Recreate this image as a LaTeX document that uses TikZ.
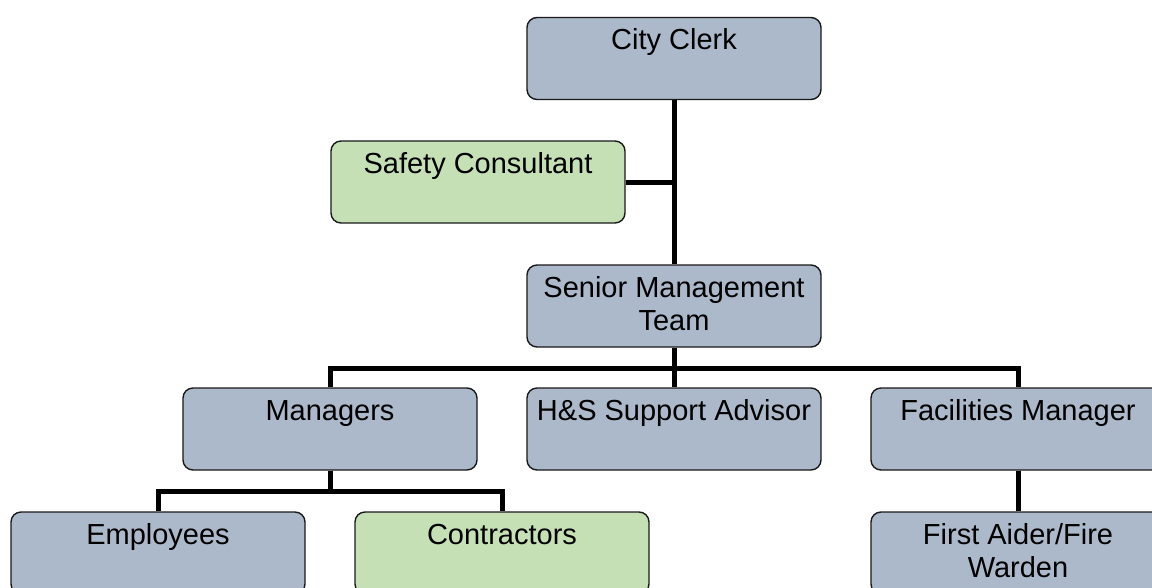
\documentclass[tikz,border=0pt]{standalone}
\usepackage{fontspec}
\setmainfont{Liberation Sans}
\usetikzlibrary{backgrounds}
\definecolor{boxblue}{RGB}{172,185,202}
\definecolor{boxgreen}{RGB}{197,224,180}
\definecolor{edgegray}{RGB}{25,25,25}
\newcommand{\boxtext}[1]{\parbox[t][82pt][t]{292pt}{\centering\fontsize{29}{33}\selectfont\rule{0pt}{32pt}#1}}
\tikzset{
  orgbox/.style={rectangle, rounded corners=10pt, draw=edgegray, line width=1.4pt,
    fill=boxblue, minimum width=294pt, minimum height=82pt, inner sep=0pt},
  greenbox/.style={orgbox, fill=boxgreen},
  link/.style={line width=5pt, draw=black}
}
\begin{document}
\begin{tikzpicture}[x=1pt,y=-1pt]
\useasboundingbox (0,0) rectangle (1152,587);
\clip (0,0) rectangle (1152,587);
% boxes
\node[orgbox]   (cc)  at (674,58.5) {\boxtext{City Clerk}};
\node[greenbox] (sc)  at (478,182)  {\boxtext{Safety Consultant}};
\node[orgbox]   (smt) at (674,306)  {\boxtext{Senior Management\\Team}};
\node[orgbox]   (mgr) at (330,429)  {\boxtext{Managers}};
\node[orgbox]   (hs)  at (674,429)  {\boxtext{H\&S Support Advisor}};
\node[orgbox]   (fm)  at (1018,429) {\boxtext{Facilities Manager}};
\node[orgbox]   (emp) at (158,553)  {\boxtext{Employees}};
\node[greenbox] (con) at (502,553)  {\boxtext{Contractors}};
\node[orgbox]   (fa)  at (1018,553) {\boxtext{First Aider/Fire\\Warden}};
% junctions
\coordinate (j1) at (674,368);
\coordinate (j2) at (330,491);
% connectors behind the boxes
\begin{pgfonlayer}{background}
\draw[link] (cc.south) -- (smt.north);
\draw[link] (sc.east) -- (sc.east -| cc.south);
\draw[link] (smt.south) -- (hs.north);
\draw[link] (mgr.north) |- (j1) -| (fm.north);
\draw[link] (mgr.south) -- (j2);
\draw[link] (emp.north) |- (j2) -| (con.north);
\draw[link] (fm.south) -- (fa.north);
\end{pgfonlayer}
\end{tikzpicture}
\end{document}
